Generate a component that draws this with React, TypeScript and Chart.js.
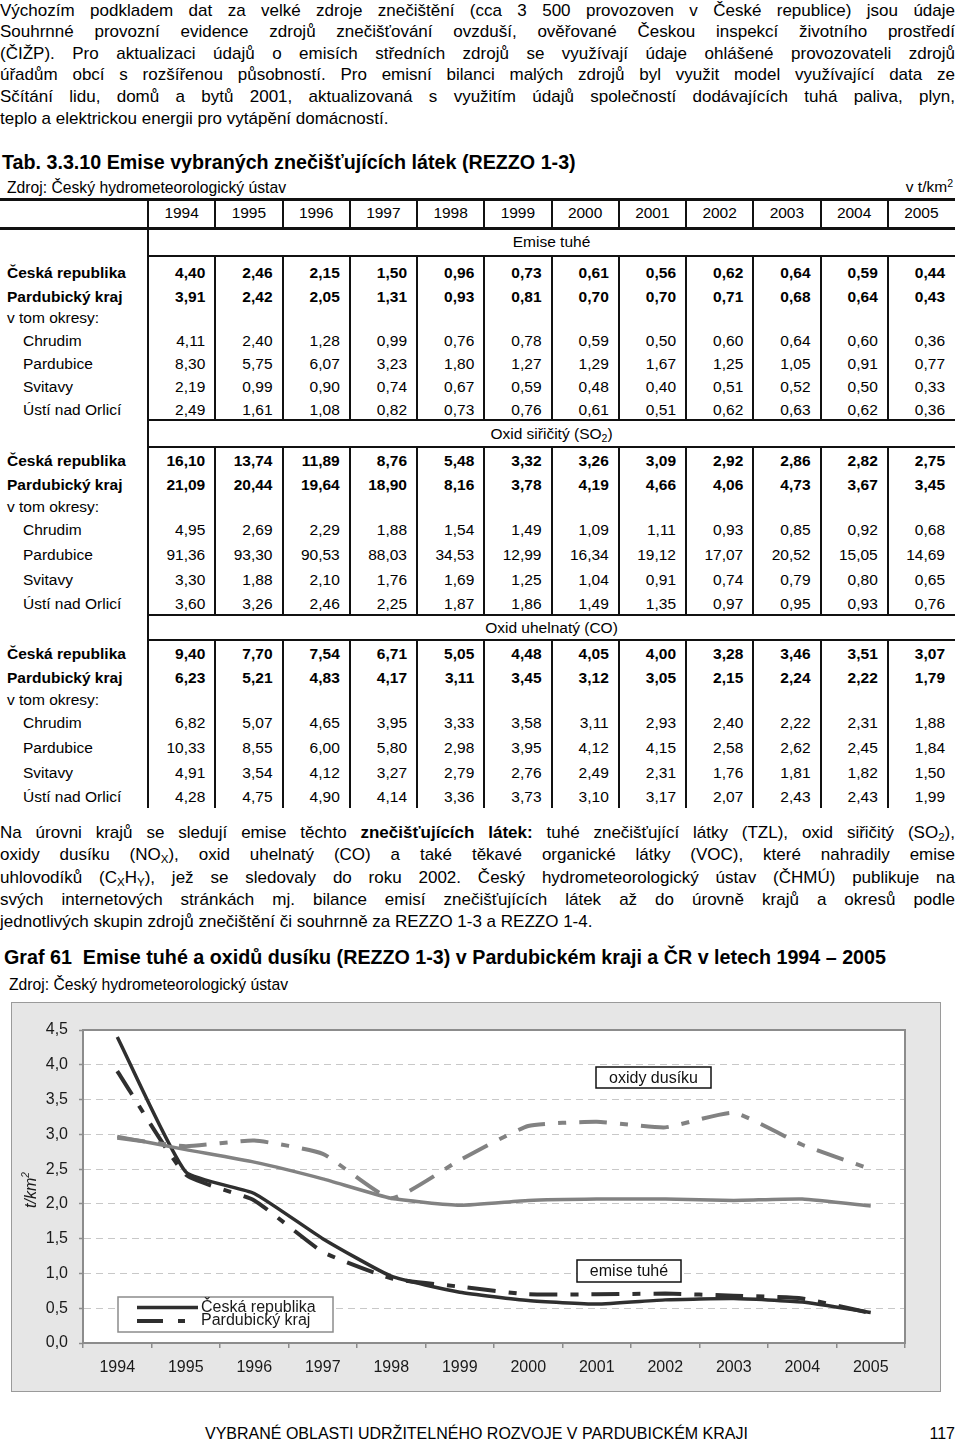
import React, { useEffect, useRef } from "react";
import { Chart, registerables } from "chart.js";

Chart.register(...registerables);

if (typeof document !== "undefined") {
  document.body.style.margin = "0";
}

const FONT = '"Liberation Sans", Arial, Helvetica, sans-serif';

// ---------------- data ----------------
const years = ["1994", "1995", "1996", "1997", "1998", "1999", "2000", "2001", "2002", "2003", "2004", "2005"];

// Emise tuhé (t/km2)
const tuheCR = [4.40, 2.46, 2.15, 1.50, 0.96, 0.73, 0.61, 0.56, 0.62, 0.64, 0.59, 0.44];
const tuhePK = [3.91, 2.42, 2.05, 1.31, 0.93, 0.81, 0.70, 0.70, 0.71, 0.68, 0.64, 0.43];
const tuheChrudim = [4.11, 2.40, 1.28, 0.99, 0.76, 0.78, 0.59, 0.50, 0.60, 0.64, 0.60, 0.36];
const tuhePardubice = [8.30, 5.75, 6.07, 3.23, 1.80, 1.27, 1.29, 1.67, 1.25, 1.05, 0.91, 0.77];
const tuheSvitavy = [2.19, 0.99, 0.90, 0.74, 0.67, 0.59, 0.48, 0.40, 0.51, 0.52, 0.50, 0.33];
const tuheUsti = [2.49, 1.61, 1.08, 0.82, 0.73, 0.76, 0.61, 0.51, 0.62, 0.63, 0.62, 0.36];

// Oxid siřičitý (SO2)
const so2CR = [16.10, 13.74, 11.89, 8.76, 5.48, 3.32, 3.26, 3.09, 2.92, 2.86, 2.82, 2.75];
const so2PK = [21.09, 20.44, 19.64, 18.90, 8.16, 3.78, 4.19, 4.66, 4.06, 4.73, 3.67, 3.45];
const so2Chrudim = [4.95, 2.69, 2.29, 1.88, 1.54, 1.49, 1.09, 1.11, 0.93, 0.85, 0.92, 0.68];
const so2Pardubice = [91.36, 93.30, 90.53, 88.03, 34.53, 12.99, 16.34, 19.12, 17.07, 20.52, 15.05, 14.69];
const so2Svitavy = [3.30, 1.88, 2.10, 1.76, 1.69, 1.25, 1.04, 0.91, 0.74, 0.79, 0.80, 0.65];
const so2Usti = [3.60, 3.26, 2.46, 2.25, 1.87, 1.86, 1.49, 1.35, 0.97, 0.95, 0.93, 0.76];

// Oxid uhelnatý (CO)
const coCR = [9.40, 7.70, 7.54, 6.71, 5.05, 4.48, 4.05, 4.00, 3.28, 3.46, 3.51, 3.07];
const coPK = [6.23, 5.21, 4.83, 4.17, 3.11, 3.45, 3.12, 3.05, 2.15, 2.24, 2.22, 1.79];
const coChrudim = [6.82, 5.07, 4.65, 3.95, 3.33, 3.58, 3.11, 2.93, 2.40, 2.22, 2.31, 1.88];
const coPardubice = [10.33, 8.55, 6.00, 5.80, 2.98, 3.95, 4.12, 4.15, 2.58, 2.62, 2.45, 1.84];
const coSvitavy = [4.91, 3.54, 4.12, 3.27, 2.79, 2.76, 2.49, 2.31, 1.76, 1.81, 1.82, 1.50];
const coUsti = [4.28, 4.75, 4.90, 4.14, 3.36, 3.73, 3.10, 3.17, 2.07, 2.43, 2.43, 1.99];

// Oxidy dusíku
const noxCR = [2.97, 2.78, 2.60, 2.36, 2.08, 1.98, 2.05, 2.07, 2.07, 2.05, 2.07, 1.97];
const noxPK = [2.95, 2.83, 2.91, 2.72, 2.08, 2.63, 3.12, 3.18, 3.10, 3.31, 2.85, 2.50];

const yMin = 0;
const yMax = 4.5;
const yStep = 0.5;

const rowLabels = ["Česká republika", "Pardubický kraj", "v tom okresy:", "Chrudim", "Pardubice", "Svitavy", "Ústí nad Orlicí"];
const legendLabels = ["Česká republika", "Pardubický kraj"];
const seriesNotes = ["oxidy dusíku", "emise tuhé"];

// ---------------- layout ----------------
const COL0 = 148;
const COLW = 67.25;
const TABLE_R = 955;

const sections = [
  {
    title: <>Emise tuhé</>,
    rows: [tuheCR, tuhePK, null, tuheChrudim, tuhePardubice, tuheSvitavy, tuheUsti],
    top: 228, titleY: 242, lineY: 256, rowY: [273, 297, 318, 341, 364, 387, 410], end: 420,
  },
  {
    title: <>Oxid siřičitý (SO<Sub>2</Sub>)</>,
    rows: [so2CR, so2PK, null, so2Chrudim, so2Pardubice, so2Svitavy, so2Usti],
    top: 420, titleY: 434, lineY: 447, rowY: [461, 485, 507, 530, 555, 580, 604], end: 615,
  },
  {
    title: <>Oxid uhelnatý (CO)</>,
    rows: [coCR, coPK, null, coChrudim, coPardubice, coSvitavy, coUsti],
    top: 615, titleY: 628, lineY: 640, rowY: [654, 678, 700, 723, 748, 773, 797], end: 808,
  },
];

function Sub({ children }: { children: React.ReactNode }) {
  return <sub style={{ fontSize: "0.68em", verticalAlign: "-0.28em", lineHeight: 0 }}>{children}</sub>;
}
function Sup({ children }: { children: React.ReactNode }) {
  return <sup style={{ fontSize: "0.68em", verticalAlign: "0.45em", lineHeight: 0 }}>{children}</sup>;
}

const fmt = (v: number) => v.toFixed(2).replace(".", ",");

function Txt(props: { x: number; y: number; size: number; w?: number; align?: any; bold?: boolean; italic?: boolean; justify?: boolean; children: React.ReactNode }) {
  const lh = 22;
  const st: React.CSSProperties = {
    position: "absolute",
    left: props.x,
    top: props.y - lh / 2,
    lineHeight: lh + "px",
    height: lh,
    fontSize: props.size,
    fontWeight: props.bold ? "bold" : "normal",
    fontStyle: props.italic ? "italic" : "normal",
    whiteSpace: props.justify ? "normal" : "nowrap",
    color: "#000",
  };
  if (props.w !== undefined) st.width = props.w;
  if (props.align) st.textAlign = props.align;
  if (props.justify) {
    st.textAlign = "justify";
    (st as any).textAlignLast = "justify";
  }
  return <div style={st}>{props.children}</div>;
}

function Line({ x, y, w, h }: { x: number; y: number; w: number; h: number }) {
  return <div style={{ position: "absolute", left: x, top: y, width: w, height: h, background: "#111" }} />;
}

const p1Lines = [
  "Výchozím podkladem dat za velké zdroje znečištění (cca 3 500 provozoven v České republice) jsou údaje",
  "Souhrnné provozní evidence zdrojů znečišťování ovzduší, ověřované Českou inspekcí životního prostředí",
  "(ČIŽP). Pro aktualizaci údajů o emisích středních zdrojů se využívají údaje ohlášené provozovateli zdrojů",
  "úřadům obcí s rozšířenou působností. Pro emisní bilanci malých zdrojů byl využit model využívající data ze",
  "Sčítání lidu, domů a bytů 2001, aktualizovaná s využitím údajů společností dodávajících tuhá paliva, plyn,",
];
const p1Last = "teplo a elektrickou energii pro vytápění domácností.";

function Table() {
  const els: React.ReactNode[] = [];
  els.push(<Line key="h1" x={0} y={198} w={TABLE_R} h={3} />);
  els.push(<Line key="h2" x={0} y={227} w={TABLE_R} h={3} />);
  years.forEach((yr, k) => {
    const x = COL0 + k * COLW;
    els.push(<Line key={"hv" + k} x={x - 1} y={200} w={2} h={28} />);
    els.push(
      <Txt key={"hy" + k} x={x} y={213} w={COLW} align="center" size={15.5}>
        {yr}
      </Txt>
    );
  });
  sections.forEach((s, si) => {
    if (si > 0) els.push(<Line key={"st" + si} x={COL0 - 1} y={s.top - 1} w={TABLE_R - COL0 + 1} h={2} />);
    els.push(<Line key={"sl" + si} x={COL0 - 1} y={s.lineY - 1} w={TABLE_R - COL0 + 1} h={2} />);
    els.push(<Line key={"sv0" + si} x={COL0 - 1} y={s.top} w={2} h={s.end - s.top} />);
    for (let k = 1; k < years.length; k++) {
      els.push(<Line key={"sv" + si + "_" + k} x={COL0 + k * COLW - 1} y={s.lineY} w={2} h={s.end - s.lineY} />);
    }
    els.push(
      <Txt key={"tt" + si} x={COL0} y={s.titleY} w={TABLE_R - COL0} align="center" size={15.5}>
        {s.title}
      </Txt>
    );
    rowLabels.forEach((lab, ri) => {
      const bold = ri < 2;
      const indent = ri >= 3 ? 23 : 7;
      els.push(
        <Txt key={"rl" + si + ri} x={indent} y={s.rowY[ri]} size={15.5} bold={bold}>
          {lab}
        </Txt>
      );
      const vals = s.rows[ri];
      if (vals) {
        vals.forEach((v, k) => {
          els.push(
            <Txt key={"v" + si + ri + "_" + k} x={COL0 + k * COLW} y={s.rowY[ri]} w={COLW - 10} align="right" size={15.5} bold={bold}>
              {fmt(v)}
            </Txt>
          );
        });
      }
    });
  });
  return <>{els}</>;
}

function EmissionChart() {
  const ref = useRef<HTMLCanvasElement>(null);
  useEffect(() => {
    const canvas = ref.current;
    if (!canvas) return;
    const DARK = "#2f2f2f";
    const GRAY = "#828282";
    const DASH = [28, 13, 8, 13];

    const pagePlugin = {
      id: "pagePlugin",
      beforeDraw(chart: any) {
        const { ctx, chartArea: a } = chart;
        ctx.save();
        ctx.fillStyle = "#e6e6e6";
        ctx.fillRect(11, 2, 930, 390);
        ctx.strokeStyle = "#9a9a9a";
        ctx.lineWidth = 1;
        ctx.strokeRect(11.5, 2.5, 929, 389);
        ctx.fillStyle = "#ffffff";
        ctx.fillRect(a.left, a.top, a.right - a.left, a.bottom - a.top);
        ctx.restore();
      },
      beforeDatasetsDraw(chart: any) {
        const { ctx, chartArea: a } = chart;
        ctx.save();
        ctx.strokeStyle = "#8c8c8c";
        ctx.lineWidth = 2;
        ctx.strokeRect(a.left, a.top, a.right - a.left, a.bottom - a.top);
        ctx.restore();
      },
      afterDraw(chart: any) {
        const { ctx, chartArea: a } = chart;
        ctx.save();
        ctx.translate(32, 190);
        ctx.rotate(-Math.PI / 2);
        ctx.fillStyle = "#1a1a1a";
        ctx.textBaseline = "middle";
        ctx.font = "italic 16px " + FONT;
        const w1 = ctx.measureText("t/km").width;
        ctx.font = "italic 10px " + FONT;
        const w2 = ctx.measureText("2").width;
        ctx.font = "italic 16px " + FONT;
        ctx.textAlign = "left";
        ctx.fillText("t/km", -(w1 + w2) / 2, 0);
        ctx.font = "italic 10px " + FONT;
        ctx.fillText("2", -(w1 + w2) / 2 + w1, -6);
        ctx.restore();

        const lx = a.left + 35;
        const ly = a.bottom - 46;
        ctx.save();
        ctx.fillStyle = "#ffffff";
        ctx.fillRect(lx, ly, 215, 35);
        ctx.strokeStyle = "#8c8c8c";
        ctx.lineWidth = 1.5;
        ctx.strokeRect(lx, ly, 215, 35);
        ctx.strokeStyle = DARK;
        ctx.lineWidth = 3.5;
        ctx.beginPath();
        ctx.moveTo(lx + 19, ly + 10.5);
        ctx.lineTo(lx + 80, ly + 10.5);
        ctx.stroke();
        ctx.lineWidth = 4;
        ctx.beginPath();
        ctx.moveTo(lx + 19, ly + 24);
        ctx.lineTo(lx + 45, ly + 24);
        ctx.moveTo(lx + 60, ly + 24);
        ctx.lineTo(lx + 67, ly + 24);
        ctx.stroke();
        ctx.fillStyle = "#1a1a1a";
        ctx.font = "16px " + FONT;
        ctx.textAlign = "left";
        ctx.textBaseline = "middle";
        ctx.fillText(legendLabels[0], lx + 83, ly + 11);
        ctx.fillText(legendLabels[1], lx + 83, ly + 24);
        ctx.restore();

        const boxes = [
          { t: seriesNotes[0], x: 596, y: 67, w: 115, h: 21 },
          { t: seriesNotes[1], x: 577, y: 260, w: 104, h: 22 },
        ];
        ctx.save();
        boxes.forEach((b) => {
          ctx.fillStyle = "#ffffff";
          ctx.fillRect(b.x, b.y, b.w, b.h);
          ctx.strokeStyle = "#111";
          ctx.lineWidth = 1.5;
          ctx.strokeRect(b.x, b.y, b.w, b.h);
          ctx.fillStyle = "#111";
          ctx.font = "16px " + FONT;
          ctx.textAlign = "center";
          ctx.textBaseline = "middle";
          ctx.fillText(b.t, b.x + b.w / 2, b.y + b.h / 2 + 1);
        });
        ctx.restore();
      },
    };

    const chart = new Chart(canvas, {
      type: "line",
      data: {
        labels: years,
        datasets: [
          { label: "NOx ČR", data: noxCR, borderColor: GRAY, borderWidth: 3.5, pointRadius: 0, tension: 0.15, fill: false },
          { label: "NOx PK", data: noxPK, borderColor: GRAY, borderWidth: 4, borderDash: DASH, pointRadius: 0, tension: 0.15, fill: false },
          { label: "TZL ČR", data: tuheCR, borderColor: DARK, borderWidth: 3.5, pointRadius: 0, tension: 0.15, fill: false },
          { label: "TZL PK", data: tuhePK, borderColor: DARK, borderWidth: 4, borderDash: DASH, pointRadius: 0, tension: 0.15, fill: false },
        ],
      },
      options: {
        animation: false,
        responsive: false,
        maintainAspectRatio: false,
        devicePixelRatio: 1,
        layout: { padding: { left: 0, right: 55, top: 30, bottom: 0 } },
        plugins: { legend: { display: false }, tooltip: { enabled: false } },
        scales: {
          x: {
            type: "category",
            offset: true,
            grid: { offset: true, drawOnChartArea: false, drawTicks: true, tickLength: 5, color: "#8c8c8c", lineWidth: 1.5 },
            border: { display: true, color: "#8c8c8c", width: 2 },
            ticks: { color: "#1a1a1a", font: { family: FONT, size: 16 }, padding: 10, maxRotation: 0, autoSkip: false },
            afterFit(scale: any) {
              scale.height = 57;
            },
          },
          y: {
            min: yMin,
            max: yMax,
            ticks: {
              stepSize: yStep,
              color: "#1a1a1a",
              font: { family: FONT, size: 16 },
              padding: 11,
              callback: (v: any) => Number(v).toFixed(1).replace(".", ","),
            },
            grid: { color: "#c8c8c8", lineWidth: 1, drawTicks: true, tickLength: 4, tickColor: "#8c8c8c", tickWidth: 1.5 },
            border: { display: true, color: "#8c8c8c", width: 2, dash: [7, 5] },
            afterFit(scale: any) {
              scale.width = 83;
            },
          },
        },
      } as any,
      plugins: [pagePlugin],
    });
    return () => chart.destroy();
  }, []);
  return (
    <canvas
      ref={ref}
      width={960}
      height={400}
      style={{ position: "absolute", left: 0, top: 1000, width: 960, height: 400 }}
    />
  );
}

export default function App() {
  return (
    <div style={{ position: "relative", width: 960, height: 1451, fontFamily: FONT, color: "#000", background: "#fff", overflow: "hidden" }}>
      {p1Lines.map((l, i) => (
        <Txt key={"p1" + i} x={0} y={10.5 + i * 21.6} w={955} size={17} justify>
          {l}
        </Txt>
      ))}
      <Txt x={0} y={10.5 + 5 * 21.6} size={17}>
        {p1Last}
      </Txt>

      <Txt x={2} y={162} size={19.7} bold>
        Tab. 3.3.10 Emise vybraných znečišťujících látek (REZZO 1-3)
      </Txt>
      <Txt x={7} y={188} size={15.7}>
        Zdroj: Český hydrometeorologický ústav
      </Txt>
      <Txt x={700} y={187} w={253} align="right" size={15.5}>
        v t/km<Sup>2</Sup>
      </Txt>

      <Table />

      <Txt x={0} y={833} w={955} size={17} justify>
        Na úrovni krajů se sledují emise těchto <b>znečišťujících látek:</b> tuhé znečišťující látky (TZL), oxid siřičitý (SO<Sub>2</Sub>),
      </Txt>
      <Txt x={0} y={855.3} w={955} size={17} justify>
        oxidy dusíku (NO<Sub>X</Sub>), oxid uhelnatý (CO) a také těkavé organické látky (VOC), které nahradily emise
      </Txt>
      <Txt x={0} y={877.6} w={955} size={17} justify>
        uhlovodíků (C<Sub>X</Sub>H<Sub>Y</Sub>), jež se sledovaly do roku 2002. Český hydrometeorologický ústav (ČHMÚ) publikuje na
      </Txt>
      <Txt x={0} y={899.9} w={955} size={17} justify>
        svých internetových stránkách mj. bilance emisí znečišťujících látek až do úrovně krajů a okresů podle
      </Txt>
      <Txt x={0} y={922.2} size={17}>
        jednotlivých skupin zdrojů znečištění či souhrnně za REZZO 1-3 a REZZO 1-4.
      </Txt>

      <Txt x={4} y={957} size={19.7} bold>
        Graf 61{"\u00a0 "}Emise tuhé a oxidů dusíku (REZZO 1-3) v Pardubickém kraji a ČR v letech 1994 – 2005
      </Txt>
      <Txt x={9} y={985} size={15.7}>
        Zdroj: Český hydrometeorologický ústav
      </Txt>

      <EmissionChart />

      <Txt x={205} y={1434} size={16}>
        VYBRANÉ OBLASTI UDRŽITELNÉHO ROZVOJE V PARDUBICKÉM KRAJI
      </Txt>
      <Txt x={800} y={1434} w={155} align="right" size={16}>
        117
      </Txt>
    </div>
  );
}
